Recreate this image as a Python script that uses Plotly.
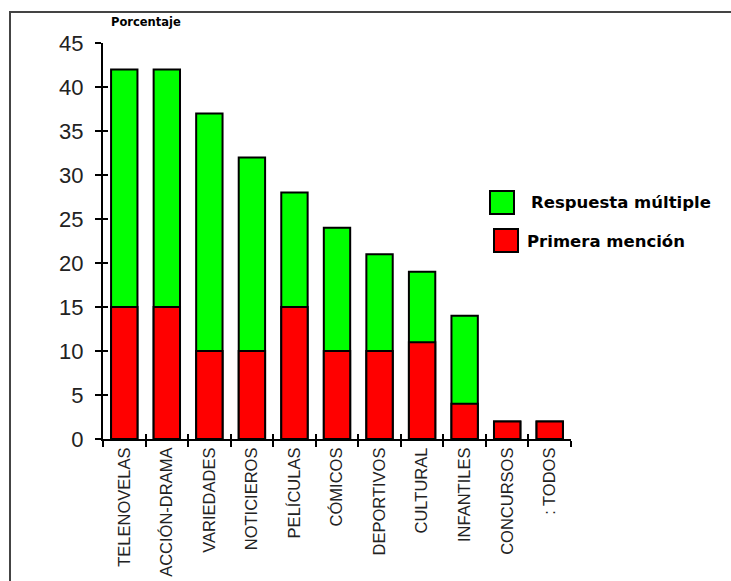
import plotly.graph_objects as go

# Programme genres and survey percentages
categorias = ["TELENOVELAS", "ACCIÓN-DRAMA", "VARIEDADES", "NOTICIEROS", "PELÍCULAS",
              "CÓMICOS", "DEPORTIVOS", "CULTURAL", "INFANTILES", "CONCURSOS", ": TODOS"]
respuesta_multiple = [42, 42, 37, 32, 28, 24, 21, 19, 14, 2, 2]
primera_mencion = [15, 15, 10, 10, 15, 10, 10, 11, 4, 2, 2]
y_ticks = [0, 5, 10, 15, 20, 25, 30, 35, 40, 45]

W, H = 731, 581
ML, MR, MT, MB = 103, 160, 43, 142
PW, PH = W - ML - MR, H - MT - MB


def px(x):
    return (x - ML) / PW


def py(y):
    return (H - MB - y) / PH


bar_line = dict(color="black", width=2)

fig = go.Figure()
fig.add_trace(go.Bar(x=categorias, y=respuesta_multiple, name="Respuesta múltiple",
                     marker=dict(color="#00FF00", line=bar_line), width=0.62))
fig.add_trace(go.Bar(x=categorias, y=primera_mencion, name="Primera mención",
                     marker=dict(color="#FF0000", line=bar_line), width=0.62))
# transparent helper trace so the overlay axes (inner tick halves) get drawn
fig.add_trace(go.Scatter(x=[0], y=[0], xaxis="x2", yaxis="y2", mode="markers",
                         marker=dict(opacity=0), showlegend=False, hoverinfo="skip"))

tick_font = dict(family="Liberation Sans, Arial, sans-serif", color="#222")

fig.update_layout(
    width=W, height=H,
    margin=dict(l=ML, r=MR, t=MT, b=MB, autoexpand=False),
    paper_bgcolor="white", plot_bgcolor="white",
    barmode="overlay",
    showlegend=False,
    xaxis=dict(type="category", tickson="boundaries", ticks="outside", ticklen=6,
               tickwidth=2, tickcolor="black", showline=True, linecolor="black",
               linewidth=2, tickangle=-90, tickfont=dict(size=16.5, **tick_font),
               showgrid=False, range=[-0.5, len(categorias) - 0.5], automargin=False),
    yaxis=dict(range=[0, 45], tickvals=y_ticks, ticks="outside", ticklen=6,
               tickwidth=2, tickcolor="black", showline=True, linecolor="black",
               linewidth=2, tickfont=dict(size=22, **tick_font), showgrid=False,
               zeroline=False, ticklabelstandoff=7, automargin=False),
    # inner halves of the crossing tick marks
    xaxis2=dict(overlaying="x", anchor="y", type="linear",
                range=[-0.5, len(categorias) - 0.5],
                tickmode="array", tickvals=[i - 0.5 for i in range(len(categorias) + 1)],
                ticks="inside", ticklen=5, tickwidth=2, tickcolor="black",
                showticklabels=False, showgrid=False, zeroline=False, side="bottom",
                automargin=False, layer="above traces"),
    yaxis2=dict(overlaying="y", anchor="x", type="linear", range=[0, 45],
                tickmode="array", tickvals=y_ticks,
                ticks="inside", ticklen=5, tickwidth=2, tickcolor="black",
                showticklabels=False, showgrid=False, zeroline=False, side="left",
                automargin=False, layer="above traces"),
)

shapes = [
    # outer frame
    dict(type="rect", xref="paper", yref="paper", x0=px(10), x1=px(W + 20),
         y0=py(H + 20), y1=py(12), line=dict(color="#444", width=2)),
    # legend swatches
    dict(type="rect", xref="paper", yref="paper", x0=px(490), x1=px(514),
         y0=py(214), y1=py(191), fillcolor="#00FF00", line=dict(color="black", width=2)),
    dict(type="rect", xref="paper", yref="paper", x0=px(494), x1=px(518),
         y0=py(252), y1=py(229), fillcolor="#FF0000", line=dict(color="black", width=2)),
]
legend_font = dict(family="DejaVu Sans, sans-serif", size=16.5, color="black")
annotations = [
    dict(text="<b>Respuesta múltiple</b>", xref="paper", yref="paper", x=px(529), y=py(202),
         xanchor="left", yanchor="middle", showarrow=False, font=legend_font),
    dict(text="<b>Primera mención</b>", xref="paper", yref="paper", x=px(525), y=py(241),
         xanchor="left", yanchor="middle", showarrow=False, font=legend_font),
    dict(text="<b>Porcentaje</b>", xref="paper", yref="paper", x=px(146), y=py(22),
         xanchor="center", yanchor="middle", showarrow=False,
         font=dict(family="DejaVu Sans, sans-serif", size=11.5, color="black")),
]
fig.update_layout(shapes=shapes, annotations=annotations)

fig.write_html("out.html")
